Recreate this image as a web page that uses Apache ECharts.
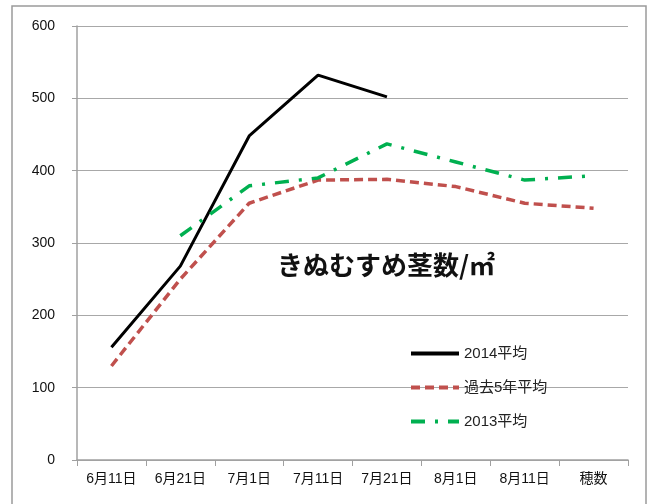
<!DOCTYPE html>
<html><head><meta charset="utf-8">
<script src="https://cdn.jsdelivr.net/npm/echarts@6/dist/echarts.min.js"></script>
<style>html,body{margin:0;padding:0;background:#fff;}#c{width:651px;height:504px;}</style>
</head><body><div id="c"></div>
<script>
const categories = ['6月11日','6月21日','7月1日','7月11日','7月21日','8月1日','8月11日','穂数'];
const s2014 = [156, 268, 448, 532, 502, null, null, null];
const sPast5 = [130, 250, 355, 387, 388, 378, 355, 348];
const s2013 = [null, 310, 379, 390, 437, 412, 387, 393];
const yTicks = [0, 100, 200, 300, 400, 500, 600];
const font = '"Liberation Sans","Noto Sans CJK JP",sans-serif';
const chart = echarts.init(document.getElementById('c'));
const legendNames = ['2014平均', '過去5年平均', '2013平均'];
chart.setOption({
  animation: false,
  backgroundColor: '#fff',
  textStyle: {fontFamily: font},
  grid: {left: 77, right: 23, top: 26, bottom: 44},
  graphic: [
    {type: 'rect', shape: {x: 12, y: 6, width: 634, height: 520}, style: {fill: 'none', stroke: '#9a9a9a', lineWidth: 1.5}, silent: true},
    {type: 'text', left: 277, top: 252, style: {text: 'きぬむすめ茎数/㎡', fontSize: 26, fontWeight: 'bold', fill: '#111', fontFamily: '"Noto Sans CJK JP",sans-serif'}}
  ],
  legend: {
    orient: 'vertical', left: 404, top: 341, itemGap: 19, itemWidth: 48, itemHeight: 14,
    textStyle: {fontSize: 15, color: '#222', fontFamily: font},
    itemStyle: {opacity: 0},
    lineStyle: {width: 4},
    data: legendNames.map(n => ({name: n, itemStyle: {opacity: 0}}))
  },
  xAxis: {
    type: 'category', data: categories, boundaryGap: true,
    axisLine: {lineStyle: {color: '#a0a0a0', width: 1.5}},
    axisTick: {show: true, length: 6, lineStyle: {color: '#a0a0a0'}},
    axisLabel: {fontSize: 14, color: '#111', margin: 12, interval: 0}
  },
  yAxis: {
    type: 'value', min: yTicks[0], max: yTicks[yTicks.length - 1], interval: 100,
    axisLine: {show: true, lineStyle: {color: '#a0a0a0', width: 1.5}},
    axisTick: {show: true, length: 5, lineStyle: {color: '#a0a0a0'}},
    splitLine: {lineStyle: {color: '#a8a8a8', width: 1.2}},
    axisLabel: {fontSize: 14, color: '#111', margin: 22}
  },
  series: [
    {name: '2014平均', type: 'line', data: s2014, symbol: 'none', connectNulls: false,
     lineStyle: {color: '#000', width: 3, type: 'solid'}, itemStyle: {color: '#000'}},
    {name: '過去5年平均', type: 'line', data: sPast5, symbol: 'none',
     lineStyle: {color: '#c0504d', width: 3.5, type: [9, 5]}, itemStyle: {color: '#c0504d'}},
    {name: '2013平均', type: 'line', data: s2013, symbol: 'none',
     lineStyle: {color: '#00b050', width: 3.5, type: [14, 10, 3, 10]}, itemStyle: {color: '#00b050'}}
  ]
});
</script></body></html>
